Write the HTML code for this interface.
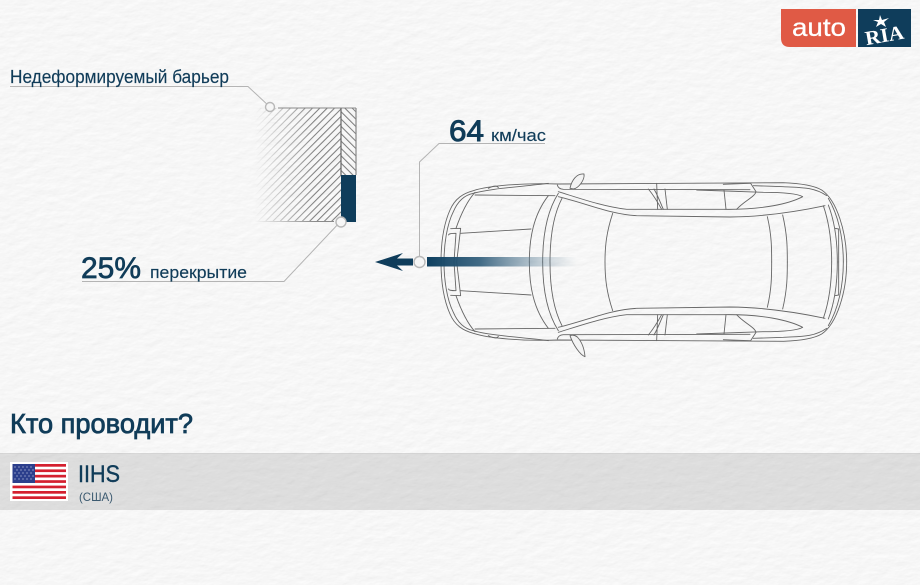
<!DOCTYPE html>
<html><head><meta charset="utf-8"><style>
html,body{margin:0;padding:0;background:#f3f3f3}
svg{display:block}
text{font-family:"Liberation Sans",sans-serif;fill:#103c59}
</style></head><body>
<svg width="920" height="585" viewBox="0 0 920 585" xmlns="http://www.w3.org/2000/svg">
<defs>
<filter id="paper" x="0" y="0" width="100%" height="100%">
<feTurbulence type="fractalNoise" baseFrequency="0.07 0.14" numOctaves="3" seed="5"/>
<feDiffuseLighting surfaceScale="0.25" lighting-color="#ffffff" diffuseConstant="1.07"><feDistantLight azimuth="60" elevation="60"/></feDiffuseLighting>
</filter>
<linearGradient id="bar"><stop offset="0" stop-color="#0f4060"/><stop offset="0.35" stop-color="#2c5a78" stop-opacity=".9"/><stop offset="1" stop-color="#6b8ba0" stop-opacity="0"/></linearGradient>
<linearGradient id="fadeG" gradientUnits="userSpaceOnUse" x1="255" y1="0" x2="315" y2="0"><stop offset="0" stop-color="#000"/><stop offset="1" stop-color="#fff"/></linearGradient>
<mask id="fadeM" maskUnits="userSpaceOnUse" x="250" y="100" width="110" height="130"><rect x="250" y="100" width="110" height="130" fill="url(#fadeG)"/></mask>
<pattern id="h1" width="5.200" height="5.200" patternUnits="userSpaceOnUse" patternTransform="rotate(45)"><line x1="1" y1="0" x2="1" y2="5.200" stroke="#7a7a7a" stroke-width="1"/></pattern>
<pattern id="h2" width="5.200" height="5.200" patternUnits="userSpaceOnUse" patternTransform="rotate(-45)"><line x1="1" y1="0" x2="1" y2="5.200" stroke="#7a7a7a" stroke-width="1"/></pattern>
<g id="half" fill="none" stroke="#666" stroke-width="2.700" stroke-linejoin="round" stroke-linecap="round">
<path d="M33,291C33,240 40,180 60,135C75,100 100,85 130,77C175,62 280,53 385,57L1060,53C1110,55 1150,60 1175,75C1220,105 1250,200 1250,291"/>
<path d="M42,291C42,240 50,180 70,140C85,105 105,90 130,85C180,70 280,65 355,55"/>
<path d="M175,70C190,62 200,60 205,68"/>
<path d="M78,190C92,150 110,110 135,82"/>
<path d="M135,90L375,92"/>
<path d="M92,205L303,192"/>
<path d="M62,191L92,190L80,291"/>
<path d="M56,210Q55,205 78,205L72,291"/>
<path d="M298,291C298,220 310,150 355,92"/>
<path d="M338,291C338,210 350,140 385,85"/>
<path d="M360,291C360,220 370,150 396,100"/>
<path d="M385,95C470,115 540,148 620,152L900,156C1000,155 1100,140 1185,122"/>
<path d="M385,80C450,100 520,125 590,133L880,133C1000,135 1080,115 1118,95C1100,85 1060,82 1000,82L800,75"/>
<path d="M382,60Q385,72 400,73L960,74"/>
<path d="M680,55L683,133M655,72C670,90 685,115 695,133M672,72C685,95 692,115 700,133M705,72L712,133M882,75L888,133"/>
<path d="M920,133C940,110 975,95 978,80L962,55M880,58L960,55M970,62L1060,65C1110,68 1150,65 1190,92"/>
<path d="M548,145C530,200 525,240 525,291"/>
<path d="M1012,155C1025,210 1025,250 1025,291M1058,150C1072,210 1072,250 1072,291"/>
<path d="M1180,122C1200,180 1205,240 1205,291M1195,120C1218,180 1222,240 1222,291M1215,190L1226,192L1226,291M1240,291C1240,220 1225,150 1195,100"/>
</g>
</defs>

<rect width="920" height="585" filter="url(#paper)"/>

<!-- Logo -->
<path d="M781,9H856V47H790Q781,47 781,38Z" fill="#e05a45"/>
<rect x="858" y="9" width="53" height="38" fill="#0f3d5b"/>
<text x="792" y="36" font-size="25" textLength="54" lengthAdjust="spacingAndGlyphs" stroke="#fff" stroke-width=".3" style="fill:#fff">auto</text>
<text x="865" y="42" font-size="20" font-weight="bold" textLength="39" lengthAdjust="spacingAndGlyphs" transform="rotate(-10 884 36)" style="font-family:'Liberation Serif',serif;fill:#fff">RIA</text>
<polygon points="880,15 882,20 889,18 884,22 886,27 881,24 876,27 878,22 873,20 879,20" fill="#fff"/>

<!-- Barrier -->
<g mask="url(#fadeM)">
<rect x="255" y="108" width="86" height="114" fill="url(#h1)"/>
<line x1="255" y1="221.500" x2="334" y2="221.500" stroke="#8a8a8a" stroke-width="1.100"/>
</g>
<line x1="278" y1="108" x2="356" y2="108" stroke="#8a8a8a" stroke-width="1.100"/>
<rect x="341" y="108" width="15" height="67" fill="url(#h2)"/>
<line x1="341" y1="108" x2="341" y2="175" stroke="#666" stroke-width="1.200"/>
<line x1="356" y1="108" x2="356" y2="175" stroke="#888" stroke-width="1.200"/>
<rect x="341" y="175" width="15" height="47" fill="#0f3d5b"/>

<!-- Car -->
<g transform="translate(430,165) scale(0.33333)">
<use href="#half"/>
<use href="#half" transform="matrix(1 0 0 -1 0 582)"/>
<g fill="#f3f3f3" stroke="#666" stroke-width="2.700" stroke-linejoin="round">
<path d="M420,70C425,45 440,25 462,27C465,45 445,70 430,72Z"/>
<path d="M420,512C425,510 432,508 442,516C455,530 463,550 465,575C450,570 430,540 420,512Z"/>
</g>
</g>

<!-- Arrow -->
<rect x="427" y="257" width="150" height="9.500" fill="url(#bar)"/>
<path d="M375,262L403,253L397,258.500H413V265.500H397L403,271Z" fill="#0f3d5b"/>

<!-- Leaders -->
<g fill="none" stroke="#b4b4b4" stroke-width="1">
<path d="M10,86.500H248L270,107"/>
<path d="M82,281.500H284L341,221"/>
<path d="M419.500,262V162L439,143.500H545"/>
</g>
<g fill="#f6f6f6" stroke="#b8b8b8" stroke-width="1.400">
<circle cx="270" cy="107" r="4.500"/>
<circle cx="341" cy="222" r="5"/>
<circle cx="419.500" cy="262" r="5.500"/>
</g>

<!-- Labels -->
<text x="10" y="83" font-size="18.500" textLength="219" lengthAdjust="spacingAndGlyphs" stroke="#103c59" stroke-width=".15">Недеформируемый барьер</text>
<text x="81" y="278" font-size="30" textLength="60" lengthAdjust="spacingAndGlyphs" stroke="#103c59" stroke-width=".7">25%</text>
<text x="150" y="278" font-size="17" textLength="97" lengthAdjust="spacingAndGlyphs" stroke="#103c59" stroke-width=".15">перекрытие</text>
<text x="449" y="141" font-size="30" textLength="35" lengthAdjust="spacingAndGlyphs" stroke="#103c59" stroke-width=".9">64</text>
<text x="491" y="141" font-size="17" textLength="55" lengthAdjust="spacingAndGlyphs" stroke="#103c59" stroke-width=".15">км/час</text>
<text x="10" y="433" font-size="28" textLength="183" lengthAdjust="spacingAndGlyphs" stroke="#103c59" stroke-width=".8">Кто проводит?</text>

<!-- Band -->
<rect x="0" y="453" width="920" height="57" fill="#000" opacity=".1"/>
<rect x="0" y="453" width="920" height="1" fill="#000" opacity=".04"/>
<!-- Flag -->
<rect x="10" y="462" width="58" height="39" fill="#fff"/>
<g>
<rect x="12.500" y="464" width="53.500" height="35" fill="#fff"/>
<rect x="12.500" y="464" width="53.500" height="2.700" fill="#d4202f"/>
<rect x="12.500" y="469.400" width="53.500" height="2.700" fill="#d4202f"/>
<rect x="12.500" y="474.800" width="53.500" height="2.700" fill="#d4202f"/>
<rect x="12.500" y="480.200" width="53.500" height="2.700" fill="#d4202f"/>
<rect x="12.500" y="485.600" width="53.500" height="2.700" fill="#d4202f"/>
<rect x="12.500" y="491" width="53.500" height="2.700" fill="#d4202f"/>
<rect x="12.500" y="496.300" width="53.500" height="2.700" fill="#d4202f"/>
<rect x="12.500" y="464" width="22.500" height="19" fill="#2c3f8c"/>
<g fill="#c9cfe6">
<circle cx="15" cy="467" r=".6"/><circle cx="19" cy="467" r=".6"/><circle cx="23" cy="467" r=".6"/><circle cx="27" cy="467" r=".6"/><circle cx="31" cy="467" r=".6"/>
<circle cx="17" cy="470" r=".6"/><circle cx="21" cy="470" r=".6"/><circle cx="25" cy="470" r=".6"/><circle cx="29" cy="470" r=".6"/><circle cx="33" cy="470" r=".6"/>
<circle cx="15" cy="473" r=".6"/><circle cx="19" cy="473" r=".6"/><circle cx="23" cy="473" r=".6"/><circle cx="27" cy="473" r=".6"/><circle cx="31" cy="473" r=".6"/>
<circle cx="17" cy="476" r=".6"/><circle cx="21" cy="476" r=".6"/><circle cx="25" cy="476" r=".6"/><circle cx="29" cy="476" r=".6"/><circle cx="33" cy="476" r=".6"/>
<circle cx="15" cy="479" r=".6"/><circle cx="19" cy="479" r=".6"/><circle cx="23" cy="479" r=".6"/><circle cx="27" cy="479" r=".6"/><circle cx="31" cy="479" r=".6"/>
</g>
</g>
<text x="78" y="482" font-size="24" textLength="42" lengthAdjust="spacingAndGlyphs" stroke="#103c59" stroke-width=".4">IIHS</text>
<text x="79" y="501" font-size="12" textLength="34" lengthAdjust="spacingAndGlyphs" style="fill:#3c5a70">(США)</text>
</svg>
</body></html>
